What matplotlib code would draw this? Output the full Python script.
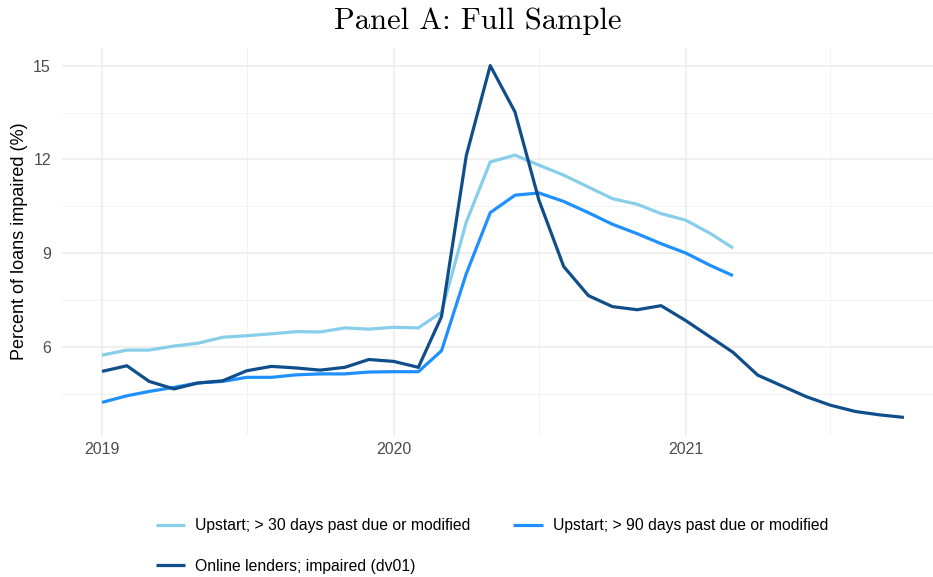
import matplotlib
matplotlib.use("Agg")
import matplotlib.pyplot as plt
import matplotlib.dates as mdates
import pandas as pd
import numpy as np
import datetime as dt

# ---- data ----
months_all = pd.date_range("2019-01-01", periods=34, freq="MS")
upstart30 = [5.75, 5.91, 5.91, 6.04, 6.13, 6.32, 6.37, 6.43, 6.50, 6.49, 6.62, 6.58,
             6.64, 6.62, 7.12, 10.00, 11.92, 12.14, 11.82, 11.50, 11.12, 10.75, 10.57,
             10.27, 10.06, 9.63, 9.17]
upstart90 = [4.24, 4.45, 4.59, 4.72, 4.86, 4.91, 5.04, 5.04, 5.12, 5.15, 5.15, 5.21,
             5.22, 5.22, 5.89, 8.35, 10.30, 10.86, 10.93, 10.66, 10.30, 9.93, 9.63,
             9.31, 9.01, 8.61, 8.29]
online = [5.23, 5.41, 4.91, 4.67, 4.86, 4.93, 5.25, 5.39, 5.34, 5.27, 5.36, 5.61,
          5.55, 5.36, 6.98, 12.12, 15.00, 13.52, 10.70, 8.58, 7.65, 7.30, 7.20,
          7.33, 6.85, 6.32, 5.84, 5.11, 4.77, 4.42, 4.15, 3.95, 3.84, 3.76]
labels = ["Upstart; > 30 days past due or modified",
          "Upstart; > 90 days past due or modified",
          "Online lenders; impaired (dv01)"]
colors = ["#87CEEB", "#1E90FF", "#104E8B"]
yticks = [6, 9, 12, 15]
title = "Panel A: Full Sample"
ylabel = "Percent of loans impaired (%)"

plt.rcParams['font.family'] = ['Liberation Sans', 'DejaVu Sans']

fig = plt.figure(figsize=(9.33, 5.77), dpi=100)
W, H = 933, 577
left, right = 62, 944
bottom, top = 435, 48
ax = fig.add_axes([left / W, 1 - bottom / H, (right - left) / W, (bottom - top) / H])

series = [(months_all[:len(upstart30)], upstart30),
          (months_all[:len(upstart90)], upstart90),
          (months_all[:len(online)], online)]
handles = []
for (x, y), c, lab in zip(series, colors, labels):
    h, = ax.plot(x, y, color=c, lw=2.3, label=lab, solid_capstyle='butt', zorder=3)
    handles.append(h)

# limits with ggplot-like expansion
x0, x1 = months_all[0], months_all[-1]
span = (x1 - x0)
ax.set_xlim(x0 - span * 0.05, x1 + span * 0.05)
ymin, ymax = min(online), max(online)
yr = ymax - ymin
ax.set_ylim(ymin - 0.05 * yr, ymax + 0.05 * yr)

ax.set_yticks(yticks)
ax.set_yticks([4.5, 7.5, 10.5, 13.5], minor=True)
ax.xaxis.set_major_locator(mdates.YearLocator())
ax.xaxis.set_major_formatter(mdates.DateFormatter("%Y"))
ax.xaxis.set_minor_locator(mdates.MonthLocator(bymonth=7))

ax.grid(which='major', color='#EBEBEB', lw=1.1, zorder=0)
ax.grid(which='minor', color='#F2F2F2', lw=0.7, zorder=0)
for s in ax.spines.values():
    s.set_visible(False)
ax.tick_params(which='both', length=0)
ax.tick_params(axis='both', labelsize=11.5, colors='#4D4D4D', pad=5)
ax.tick_params(axis='y', pad=8)
ax.set_ylabel(ylabel, fontsize=13, color='black', labelpad=4)

fig.text(478 / W, 1 - 21 / H, title, fontfamily='cmr10', fontsize=22,
         ha='center', va='center')

leg = fig.legend([handles[0], handles[2], handles[1]],
                 [labels[0], labels[2], labels[1]],
                 ncol=2, loc='center', bbox_to_anchor=(492 / W, 1 - 546 / H),
                 frameon=False, fontsize=11.3, handlelength=1.9, handletextpad=0.64,
                 columnspacing=2.7, labelspacing=1.6)

fig.savefig("out.png", dpi=100)
